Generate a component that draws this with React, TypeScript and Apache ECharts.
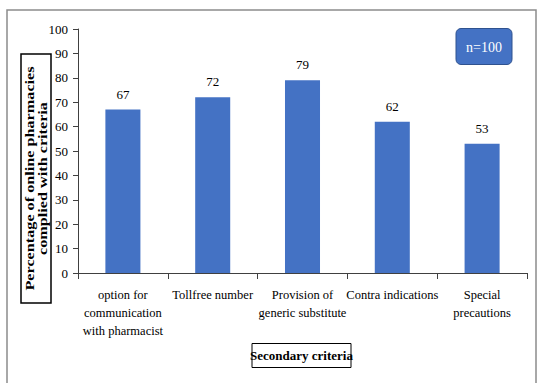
import React, { useEffect, useRef } from "react";
import * as echarts from "echarts";

const categories = [
  "option for\ncommunication\nwith pharmacist",
  "Tollfree number",
  "Provision of\ngeneric substitute",
  "Contra indications",
  "Special\nprecautions",
];
const values = [67, 72, 79, 62, 53];
const yTicks = { min: 0, max: 100, interval: 10 };
const yTitle = "Percentage of online pharmacies\ncomplied with criteria";
const xTitle = "Secondary criteria";
const sampleNote = "n=100";

const SERIF = "Liberation Serif";

export default function App() {
  const ref = useRef<HTMLDivElement>(null);
  useEffect(() => {
    if (!ref.current) return;
    const chart = echarts.init(ref.current, null, { renderer: "svg" });
    chart.setOption({
      animation: false,
      backgroundColor: "#ffffff",
      textStyle: { fontFamily: SERIF },
      grid: { left: 78, right: 11, top: 29, bottom: 110 },
      xAxis: {
        type: "category",
        data: categories,
        axisLine: { show: true, lineStyle: { color: "#404040", width: 1 } },
        axisTick: { show: true, alignWithLabel: false, length: 6, lineStyle: { color: "#404040" } },
        axisLabel: {
          interval: 0,
          margin: 13,
          color: "#000",
          fontFamily: SERIF,
          fontSize: 12.5,
          lineHeight: 18,
        },
      },
      yAxis: {
        type: "value",
        min: yTicks.min,
        max: yTicks.max,
        interval: yTicks.interval,
        splitLine: { show: false },
        axisLine: { show: true, lineStyle: { color: "#404040", width: 1 } },
        axisTick: { show: true, length: 5, lineStyle: { color: "#404040" } },
        axisLabel: { color: "#000", fontFamily: SERIF, fontSize: 13, margin: 10 },
      },
      series: [
        {
          type: "bar",
          data: values,
          barWidth: "39%",
          itemStyle: { color: "#4472C4" },
          label: {
            show: true,
            position: "top",
            distance: 9,
            color: "#000",
            fontFamily: SERIF,
            fontSize: 13,
          },
        },
      ],
      graphic: [
        {
          type: "rect",
          shape: { x: 7, y: 10, width: 529, height: 380 },
          style: { fill: "none", stroke: "#8c8c8c", lineWidth: 1.5 },
          silent: true,
        },
        {
          type: "rect",
          shape: { x: 21, y: 54, width: 30, height: 249 },
          style: { fill: "#fff", stroke: "#000", lineWidth: 1.5 },
        },
        {
          type: "text",
          x: 36,
          y: 178.5,
          rotation: Math.PI / 2,
          scaleX: 1.35,
          scaleY: 1,
          style: {
            text: yTitle,
            fontFamily: SERIF,
            fontWeight: "bold",
            fontSize: 12,
            lineHeight: 13,
            fill: "#000",
            align: "center",
            verticalAlign: "middle",
          },
        },
        {
          type: "rect",
          shape: { x: 252, y: 343.5, width: 99, height: 24 },
          style: { fill: "#fff", stroke: "#000", lineWidth: 1 },
        },
        {
          type: "text",
          x: 301.5,
          y: 355.5,
          style: {
            text: xTitle,
            fontFamily: SERIF,
            fontWeight: "bold",
            fontSize: 13,
            fill: "#000",
            align: "center",
            verticalAlign: "middle",
          },
        },
        {
          type: "rect",
          shape: { x: 456, y: 28.5, width: 56, height: 36, r: 5 },
          style: { fill: "#4472C4", stroke: "#2F528F", lineWidth: 1 },
        },
        {
          type: "text",
          x: 484,
          y: 47,
          style: {
            text: sampleNote,
            fontFamily: SERIF,
            fontSize: 14,
            fill: "#fff",
            align: "center",
            verticalAlign: "middle",
          },
        },
      ],
    });
    return () => chart.dispose();
  }, []);
  return (
    <div
      ref={ref}
      style={{ position: "fixed", left: 0, top: 0, width: 538, height: 383 }}
    />
  );
}
